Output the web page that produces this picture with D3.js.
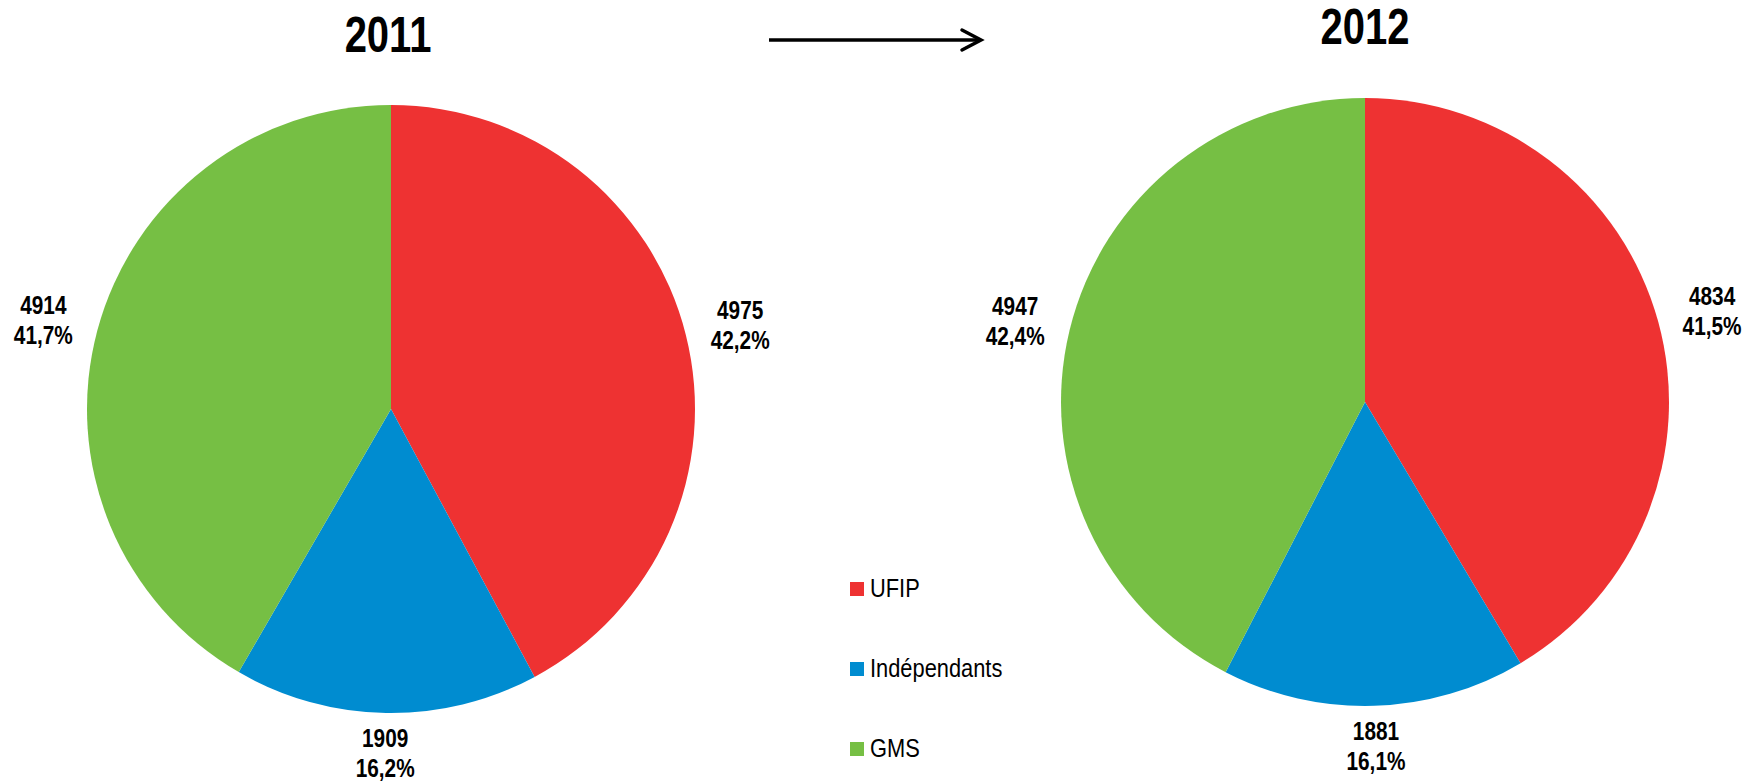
<!DOCTYPE html>
<html>
<head>
  <meta charset="utf-8">
  <title>UFIP / Indépendants / GMS 2011-2012</title>
  <script src="https://d3js.org/d3.v7.min.js"></script>
  <style>
    body { margin: 0; background: #fff; }
    svg text { font-family: 'Liberation Sans Narrow', 'Arial Narrow', 'Liberation Sans', Arial, sans-serif; }
  </style>
</head>
<body>
  <div id="chart"></div>

  <script type="text/javascript">

    // Data
    var categories = ['UFIP', 'Indépendants', 'GMS'];
    var years = ['2011', '2012'];
    var values2011 = [4975, 1909, 4914];
    var values2012 = [4834, 1881, 4947];
    var colors = ['#EE3232', '#008CD0', '#76BF44'];

    var width = 1748, height = 782;
    var radius = 304;
    var narrow = 0.8;   // no narrow font installed, squeeze the text instead

    // Setting up the pies (centre of each pie)
    var pies = [
      {year: years[0], values: values2011, cx: 391, cy: 409, titleX: 388, titleY: 52},
      {year: years[1], values: values2012, cx: 1365, cy: 402, titleX: 1365, titleY: 44}
    ];

    var color = d3.scaleOrdinal().domain(categories).range(colors);
    var pie = d3.pie().sort(null).value(function(d) { return d.value; });
    var arc = d3.arc().innerRadius(0).outerRadius(radius);
    var fmtPct = d3.format('.1f');

    var svg = d3.select('#chart')
                .append('svg')
                  .attr('width', width)
                  .attr('height', height);

    pies.forEach(function(p) {
      var data = categories.map(function(c, i) { return {name: c, value: p.values[i]}; });
      var total = d3.sum(p.values);
      var slices = pie(data);

      svg.append('text')
           .text(p.year)
           .attr('text-anchor', 'middle')
           .attr('transform', 'translate(' + p.titleX + ',' + p.titleY + ') scale(' + narrow + ',1)')
           .style('font-size', '50px')
           .style('font-weight', 'bold');

      var g = svg.append('g')
                 .attr('transform', 'translate(' + p.cx + ',' + p.cy + ')');

      g.selectAll('path')
         .data(slices)
         .enter()
         .append('path')
           .attr('d', arc)
           .style('fill', function(d) { return color(d.data.name); });

      // labels outside the pie, placed along the slice mid angle
      var labels = g.selectAll('.label')
                    .data(slices)
                    .enter()
                    .append('text')
                      .attr('class', 'label')
                      .attr('text-anchor', 'middle')
                      .style('font-size', '26px')
                      .style('font-weight', 'bold')
                      .attr('transform', function(d) {
                        var a = (d.startAngle + d.endAngle) / 2;
                        return 'translate(' + (360 * Math.sin(a)) + ',' + (-344 * Math.cos(a)) + ') scale(' + narrow + ',1)';
                      });

      labels.append('tspan')
              .attr('x', 0)
              .attr('y', -6)
              .text(function(d) { return d.data.value; });

      labels.append('tspan')
              .attr('x', 0)
              .attr('y', 24)
              .text(function(d) { return fmtPct(d.data.value / total * 100).replace('.', ',') + '%'; });
    });

    // arrow between the two years
    svg.append('line')
         .attr('x1', 769).attr('y1', 40)
         .attr('x2', 981).attr('y2', 40)
         .style('stroke', '#000')
         .style('stroke-width', 3.5);

    svg.append('path')
         .attr('d', 'M962,30 L981,40 L962,50')
         .style('fill', 'none')
         .style('stroke', '#000')
         .style('stroke-width', 3.5)
         .style('stroke-linecap', 'round');

    // legend
    var legend = svg.append('g')
                    .attr('transform', 'translate(850,582)');

    var item = legend.selectAll('.legend-item')
                     .data(categories)
                     .enter()
                     .append('g')
                       .attr('class', 'legend-item')
                       .attr('transform', function(d, i) { return 'translate(0,' + (i * 80) + ')'; });

    item.append('rect')
          .attr('width', 14)
          .attr('height', 14)
          .style('fill', function(d) { return color(d); });

    item.append('text')
          .attr('transform', 'translate(20,15) scale(0.84,1)')
          .style('font-size', '26px')
          .text(function(d) { return d; });

  </script>
</body>
</html>
